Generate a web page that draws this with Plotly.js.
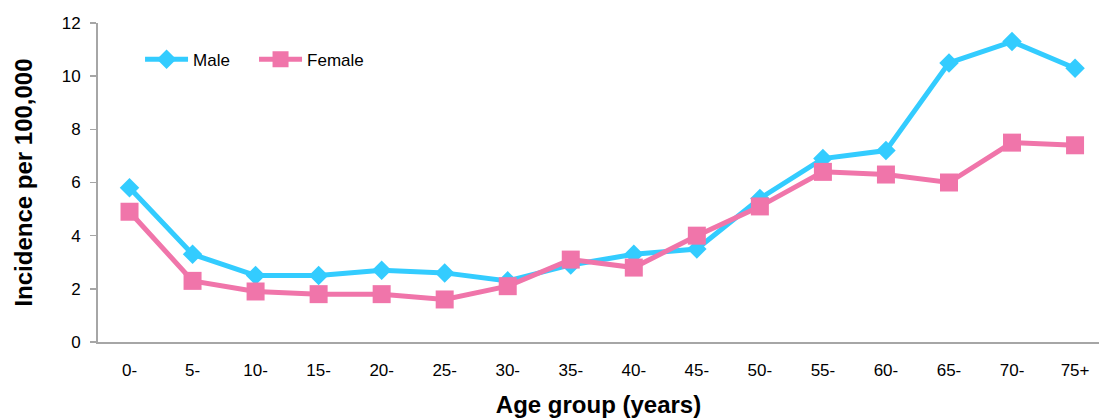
<!DOCTYPE html>
<html>
<head>
<meta charset="utf-8">
<script src="https://cdn.plot.ly/plotly-3.0.1.min.js"></script>
<style>html,body{margin:0;padding:0;background:#fff;}#chart{width:1099px;height:419px;}</style>
</head>
<body>
<div id="chart"></div>
<script>
const ageGroups = ["0-","5-","10-","15-","20-","25-","30-","35-","40-","45-","50-","55-","60-","65-","70-","75+"];
const maleValues = [5.8,3.3,2.5,2.5,2.7,2.6,2.3,2.9,3.3,3.5,5.4,6.9,7.2,10.5,11.3,10.3];
const femaleValues = [4.9,2.3,1.9,1.8,1.8,1.6,2.1,3.1,2.8,4.0,5.1,6.4,6.3,6.0,7.5,7.4];
const yTicks = [0,2,4,6,8,10,12];

const fontFam = '"Liberation Sans", Arial, sans-serif';
const idx = ageGroups.map((_, i) => i);

const traces = [
  {x: idx, y: maleValues, name: "Male", type: "scatter", mode: "lines+markers",
   line: {color: "#33CCFF", width: 5},
   marker: {symbol: "diamond", size: 15, color: "#33CCFF"}},
  {x: idx, y: femaleValues, name: "Female", type: "scatter", mode: "lines+markers",
   line: {color: "#F075AA", width: 5},
   marker: {symbol: "square", size: 18, color: "#F075AA"}}
];

const layout = {
  width: 1099, height: 419,
  margin: {l: 98, r: 0, t: 23, b: 77},
  paper_bgcolor: "#fff", plot_bgcolor: "#fff",
  font: {family: fontFam, size: 17, color: "#000"},
  showlegend: true,
  legend: {orientation: "h", x: 0.042, xanchor: "left", y: 0.885, yanchor: "middle",
           itemwidth: 43, entrywidth: 56, entrywidthmode: "pixels",
           font: {family: fontFam, size: 17, color: "#000"}, bgcolor: "rgba(0,0,0,0)", tracegroupgap: 0},
  xaxis: {
    range: [-0.5, 15.38], tickmode: "array", tickvals: idx, ticktext: ageGroups,
    showline: true, linecolor: "#A6A6A6", linewidth: 2, showgrid: false, zeroline: false,
    ticks: "", ticklen: 0, ticklabelstandoff: 12, tickfont: {family: fontFam, size: 17},
    title: {text: "<b>Age group (years)</b>", font: {family: fontFam, size: 24}, standoff: 17}
  },
  yaxis: {
    range: [0, 12], tickmode: "array", tickvals: yTicks,
    showline: true, linecolor: "#A6A6A6", linewidth: 2, showgrid: false, zeroline: false,
    ticks: "outside", ticklen: 6, tickcolor: "#A6A6A6", tickwidth: 1.5,
    ticklabelstandoff: 6, tickfont: {family: fontFam, size: 17},
    title: {text: "<b>Incidence per 100,000</b>", font: {family: fontFam, size: 24}, standoff: 22}
  }
};

Plotly.newPlot("chart", traces, layout, {displayModeBar: false, staticPlot: true});
</script>
</body>
</html>
